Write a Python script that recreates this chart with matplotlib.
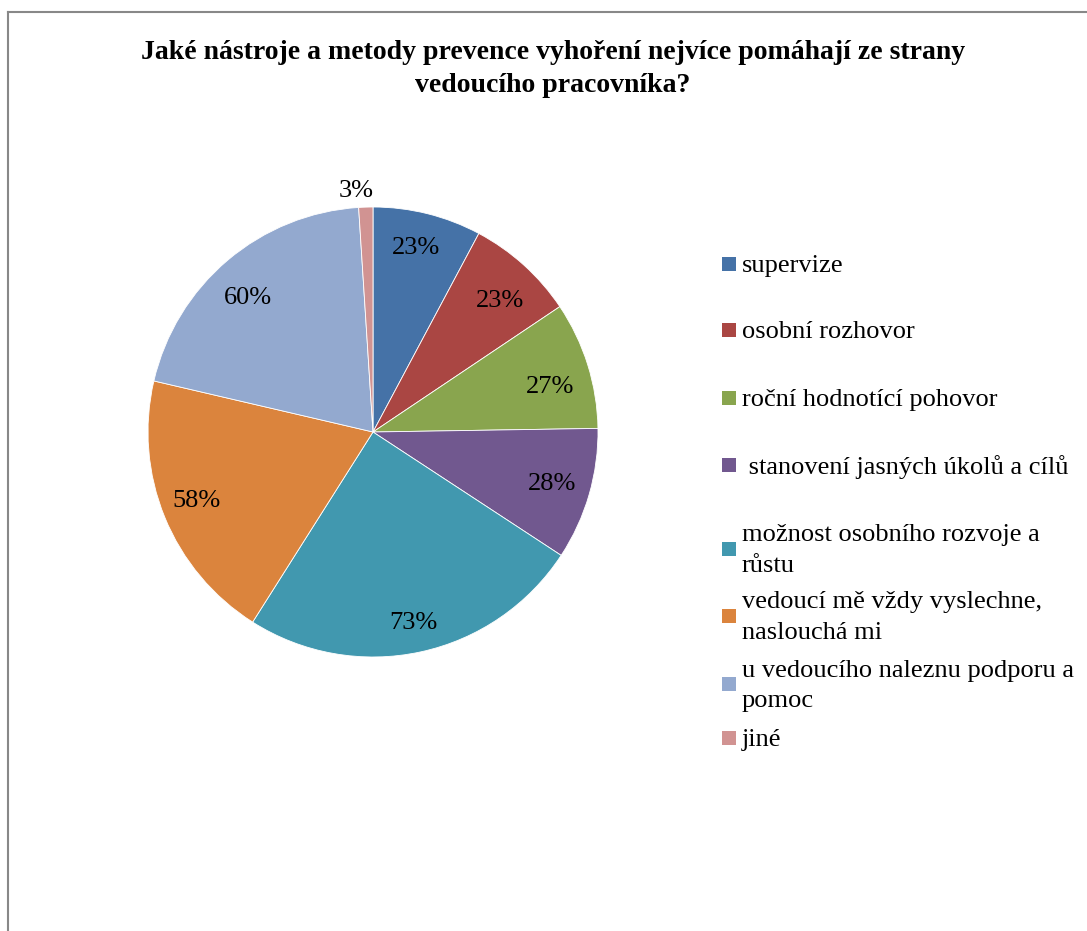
import matplotlib
matplotlib.use("Agg")
import matplotlib.pyplot as plt
from matplotlib.lines import Line2D
from matplotlib.patches import Rectangle
import numpy as np

plt.rcParams['font.family'] = ['Liberation Serif', 'DejaVu Serif']

title = "Jaké nástroje a metody prevence vyhoření nejvíce pomáhají ze strany\nvedoucího pracovníka?"
categories = ["supervize", "osobní rozhovor", "roční hodnotící pohovor",
              " stanovení jasných úkolů a cílů",
              "možnost osobního rozvoje a\nrůstu",
              "vedoucí mě vždy vyslechne,\nnaslouchá mi",
              "u vedoucího naleznu podporu a\npomoc",
              "jiné"]
values = [23, 23, 27, 28, 73, 58, 60, 3]
labels = ["23%", "23%", "27%", "28%", "73%", "58%", "60%", "3%"]
colors = ["#4572A7", "#AA4643", "#89A54E", "#71588F", "#4198AF", "#DB843D", "#93A9CF", "#D19392"]

W, H = 1087, 931
fig = plt.figure(figsize=(W / 100, H / 100), dpi=100)

# border
fig.add_artist(Line2D([8 / W, 8 / W], [0, 1 - 12 / H], color="#888888", lw=1.5))
fig.add_artist(Line2D([8 / W, 1], [1 - 12 / H, 1 - 12 / H], color="#888888", lw=1.5))

fig.text(553 / W, 1 - 69 / H, title, ha="center", va="center", fontsize=20,
         fontweight="bold", linespacing=1.47)

cx, cy, r = 373, 432, 225
ax = fig.add_axes([(cx - r) / W, 1 - (cy + r) / H, 2 * r / W, 2 * r / H])
wedges, _ = ax.pie(values, colors=colors, startangle=90, counterclock=False,
                   radius=1, wedgeprops=dict(edgecolor="white", linewidth=0.6))
ax.set_xlim(-1, 1)
ax.set_ylim(-1, 1)
ax.set_aspect("equal")
ax.axis("off")

# label placement (layout): radial distance and angular nudge in degrees
dists = [0.852, 0.82, 0.815, 0.825, 0.854, 0.837, 0.824, 1.087]
nudges = [1.0, -1.4, -2.2, 0.9, 0.0, -1.5, 2.0, 2.0]
for w, lab, d, n in zip(wedges, labels, dists, nudges):
    ang = np.deg2rad((w.theta1 + w.theta2) / 2 + n)
    ax.text(d * np.cos(ang), d * np.sin(ang) - 0.012, lab, ha="center", va="center",
            fontsize=19, color="black")

# legend
ys = [266, 332, 400, 467, 550.5, 617.5, 686, 740]
for cat, col, y in zip(categories, colors, ys):
    fig.add_artist(Rectangle(((722) / W, 1 - (y + 5) / H), 14 / W, 14 / H,
                             facecolor=col, edgecolor="none", transform=fig.transFigure))
    fig.text(742 / W, 1 - y / H, cat, ha="left", va="center", fontsize=19,
             linespacing=1.48)

fig.savefig("out.png", dpi=100)
